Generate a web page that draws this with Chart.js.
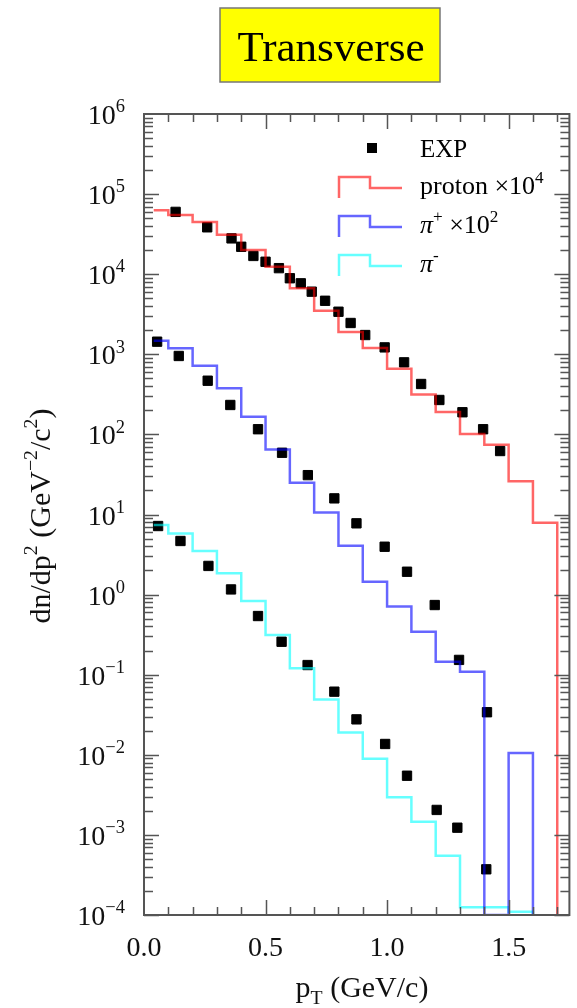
<!DOCTYPE html>
<html>
<head>
<title>Transverse</title>
<script src="https://cdn.jsdelivr.net/npm/chart.js"></script>
<style>
  body { margin: 0; background: #fff; }
</style>
</head>
<body>
<canvas id="ptChart" width="577" height="1008"></canvas>
<script>
// histogram bin edges of the model curves (GeV/c)
const binEdges = [0.04, 0.1, 0.2, 0.3, 0.4, 0.5, 0.6, 0.7, 0.8, 0.9, 1.0, 1.1, 1.2, 1.3, 1.4, 1.5, 1.6, 1.7];

// model values, one per bin edge (value held until the next edge)
const protonModel = [6.3e4, 5.5e4, 4.5e4, 3.1e4, 2.0e4, 1.24e4, 6.7e3, 3.5e3, 1.9e3, 1.2e3, 660, 316, 191, 101, 74, 26, 7.9, 1e-4];
const piPlusModel = [1480, 1190, 720, 376, 166, 65, 25, 10.6, 4.07, 1.45, 0.71, 0.344, 0.145, 0.109, 1e-4, 0.0105, 1e-4];
const piMinusModel = [7.4, 5.8, 3.5, 1.85, 0.83, 0.313, 0.12, 0.049, 0.019, 0.0089, 0.00295, 0.00146, 5.5e-4, 1.25e-4, 1.25e-4, 1.1e-4, 1e-4];

// experimental points
const protonExpX = [0.13, 0.26, 0.36, 0.40, 0.45, 0.50, 0.555, 0.60, 0.645, 0.69, 0.745, 0.80, 0.85, 0.91, 0.99, 1.07, 1.14, 1.215, 1.31, 1.395, 1.465];
const protonExpY = [6.0e4, 3.85e4, 2.8e4, 2.2e4, 1.69e4, 1.43e4, 1.19e4, 8.9e3, 7.7e3, 6.05e3, 4.66e3, 3.4e3, 2.46e3, 1.74e3, 1.22e3, 794, 426, 269, 189, 116, 62];
const piPlusExpX = [0.054, 0.143, 0.262, 0.355, 0.469, 0.568, 0.674, 0.783, 0.874, 0.99, 1.082, 1.196, 1.296, 1.411];
const piPlusExpY = [1437, 953, 468, 233, 116, 59, 31, 15.9, 7.76, 3.96, 1.93, 0.741, 0.153, 0.034];
const piMinusExpX = [0.058, 0.15, 0.265, 0.358, 0.469, 0.566, 0.673, 0.783, 0.874, 0.992, 1.082, 1.204, 1.289, 1.408];
const piMinusExpY = [7.18, 4.67, 2.28, 1.16, 0.54, 0.258, 0.132, 0.0614, 0.0277, 0.01365, 0.00548, 0.00205, 0.00123, 3.72e-4];

// axis tick labels
const yTickExponents = [6, 5, 4, 3, 2, 1, 0, -1, -2, -3, -4];
const xTickValues = [0, 0.5, 1.0, 1.5];
const xTickLabels = ['0.0', '0.5', '1.0', '1.5'];

const SERIF = '"Liberation Serif", "DejaVu Serif", serif';

function toPoints(xs, ys) {
  return xs.map((v, i) => ({ x: v, y: ys[i] }));
}

// draw a row of text runs; kind: 'n' normal, 'sup', 'sub', 'i' italic
function drawRuns(ctx, runs, x, y, size, align) {
  const fontOf = (kind) => {
    if (kind === 'sup' || kind === 'sub') return (size * 0.66) + 'px ' + SERIF;
    if (kind === 'i') return 'italic ' + size + 'px ' + SERIF;
    return size + 'px ' + SERIF;
  };
  let total = 0;
  const widths = runs.map(([t, k]) => {
    ctx.font = fontOf(k);
    const w = ctx.measureText(t).width;
    total += w;
    return w;
  });
  let cx = align === 'center' ? x - total / 2 : align === 'right' ? x - total : x;
  ctx.textAlign = 'left';
  ctx.textBaseline = 'alphabetic';
  runs.forEach(([t, k], i) => {
    ctx.font = fontOf(k);
    let dy = 0;
    if (k === 'sup') dy = -size * 0.42;
    if (k === 'sub') dy = size * 0.22;
    ctx.fillText(t, cx, y + dy);
    cx += widths[i];
  });
}

const decor = {
  id: 'decor',
  afterDatasetsDraw(chart) {
    const { ctx, chartArea: a, scales: { x, y } } = chart;
    ctx.save();

    // ticks
    ctx.strokeStyle = '#555';
    ctx.lineWidth = 1.5;
    ctx.beginPath();
    for (let e = -4; e < 6; e++) {
      for (let m = 1; m < 10; m++) {
        const py = Math.round(y.getPixelForValue(m * Math.pow(10, e))) + 0.5;
        const len = m === 1 ? 15 : 9;
        ctx.moveTo(a.left, py); ctx.lineTo(a.left + len, py);
        ctx.moveTo(a.right, py); ctx.lineTo(a.right - len, py);
      }
    }
    for (let k = 1; k <= 17; k++) {
      const px = Math.round(x.getPixelForValue(k / 10)) + 0.5;
      const len = k % 5 === 0 ? 15 : 8;
      ctx.moveTo(px, a.bottom); ctx.lineTo(px, a.bottom - len);
      ctx.moveTo(px, a.top); ctx.lineTo(px, a.top + len);
    }
    ctx.stroke();

    // frame
    ctx.lineWidth = 2;
    ctx.strokeRect(a.left, a.top, a.right - a.left, a.bottom - a.top);

    // y tick labels
    ctx.fillStyle = '#111';
    yTickExponents.forEach(e => {
      const py = y.getPixelForValue(Math.pow(10, e));
      const sup = e < 0 ? '\u2212' + (-e) : String(e);
      drawRuns(ctx, [['10', 'n'], [sup, 'sup']], 125, py + 10, 28, 'right');
    });

    // x tick labels
    xTickValues.forEach((v, i) => {
      const px = x.getPixelForValue(v);
      drawRuns(ctx, [[xTickLabels[i], 'n']], px, 956, 28, 'center');
    });

    // axis titles
    drawRuns(ctx, [['p', 'n'], ['T', 'sub'], [' (GeV/c)', 'n']], 362, 997, 30, 'center');
    ctx.save();
    ctx.translate(50, 516);
    ctx.rotate(-Math.PI / 2);
    drawRuns(ctx, [['dn/dp', 'n'], ['2', 'sup'], [' (GeV', 'n'], ['\u22122', 'sup'], ['/c', 'n'], ['2', 'sup'], [')', 'n']], 0, 0, 30, 'center');
    ctx.restore();

    // title box
    ctx.fillStyle = '#ffff00';
    ctx.fillRect(220, 8, 220, 74);
    ctx.strokeStyle = '#777';
    ctx.lineWidth = 1.5;
    ctx.strokeRect(220, 8, 220, 74);
    ctx.fillStyle = '#000';
    drawRuns(ctx, [['Transverse', 'n']], 331, 61, 43, 'center');

    // legend
    ctx.fillStyle = '#000';
    ctx.fillRect(367, 143, 10, 10);
    drawRuns(ctx, [['EXP', 'n']], 420, 157, 25, 'left');
    const items = [
      { c: 'rgba(255,0,0,0.6)', top: 177, runs: [['proton \u00d710', 'n'], ['4', 'sup']] },
      { c: 'rgba(0,0,255,0.6)', top: 216, runs: [['\u03c0', 'i'], ['+', 'sup'], [' \u00d710', 'n'], ['2', 'sup']] },
      { c: 'rgba(0,255,255,0.6)', top: 255, runs: [['\u03c0', 'i'], ['-', 'sup']] }
    ];
    items.forEach(it => {
      ctx.strokeStyle = it.c;
      ctx.lineWidth = 2.5;
      ctx.beginPath();
      ctx.moveTo(339, it.top + 21);
      ctx.lineTo(339, it.top);
      ctx.lineTo(370, it.top);
      ctx.lineTo(370, it.top + 11);
      ctx.lineTo(402, it.top + 11);
      ctx.stroke();
      ctx.fillStyle = '#000';
      drawRuns(ctx, it.runs, 420, it.top + 17, 26, 'left');
    });

    ctx.restore();
  }
};

const stepStyle = (color) => ({
  showLine: true,
  stepped: 'before',
  borderColor: color,
  borderWidth: 2.5,
  pointRadius: 0,
  fill: false,
  order: 0
});

const expStyle = {
  showLine: false,
  pointStyle: 'rect',
  pointRadius: 6.6,
  pointBackgroundColor: '#000',
  pointBorderColor: '#000',
  pointBorderWidth: 1,
  order: 1
};

new Chart(document.getElementById('ptChart'), {
  type: 'scatter',
  data: {
    datasets: [
      { label: 'proton x10^4', data: toPoints(binEdges, protonModel), ...stepStyle('rgba(255,0,0,0.6)') },
      { label: 'pi+ x10^2', data: toPoints(binEdges.slice(0, piPlusModel.length), piPlusModel), ...stepStyle('rgba(0,0,255,0.6)') },
      { label: 'pi-', data: toPoints(binEdges.slice(0, piMinusModel.length), piMinusModel), ...stepStyle('rgba(0,255,255,0.6)') },
      { label: 'EXP proton', data: toPoints(protonExpX, protonExpY), ...expStyle },
      { label: 'EXP pi+', data: toPoints(piPlusExpX, piPlusExpY), ...expStyle },
      { label: 'EXP pi-', data: toPoints(piMinusExpX, piMinusExpY), ...expStyle }
    ]
  },
  options: {
    responsive: false,
    animation: false,
    layout: { padding: { left: 144, top: 114, right: 4, bottom: 93 } },
    plugins: {
      legend: { display: false },
      tooltip: { enabled: false }
    },
    scales: {
      x: { type: 'linear', min: 0, max: 1.75, display: false },
      y: { type: 'logarithmic', min: 1e-4, max: 1e6, display: false }
    }
  },
  plugins: [decor]
});
</script>
</body>
</html>
